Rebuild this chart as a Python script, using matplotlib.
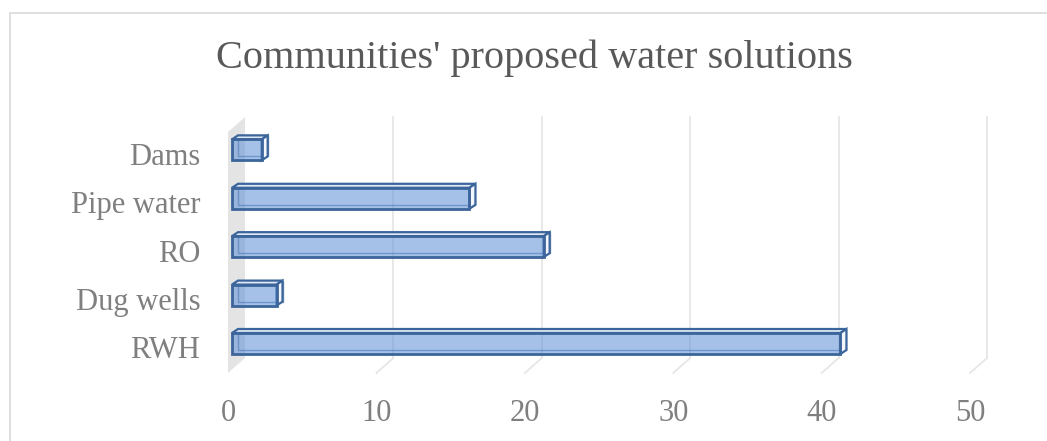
import matplotlib
matplotlib.use("Agg")
import matplotlib.pyplot as plt
from matplotlib.patches import Polygon, Rectangle

# data (bottom to top)
categories = ["RWH", "Dug wells", "RO", "Pipe water", "Dams"]
values = [41, 3, 21, 16, 2]
x_ticks = [0, 10, 20, 30, 40, 50]
title = "Communities' proposed water solutions"

plt.rcParams["font.family"] = ["Liberation Serif", "DejaVu Serif"]

W, H, DPI = 1047, 441, 100
fig = plt.figure(figsize=(W / DPI, H / DPI), dpi=DPI)

# front plane of the 3d box, in pixels from the lower left
left, right, bottom, top = 228, 970, 68, 309
ax = fig.add_axes([left / W, bottom / H, (right - left) / W, (top - bottom) / H])
y_lo, y_hi = -0.527, 4.452
ax.set_xlim(x_ticks[0], x_ticks[-1])
ax.set_ylim(y_lo, y_hi)
for s in ax.spines.values():
    s.set_visible(False)

# pixel -> data units
px_x = (x_ticks[-1] - x_ticks[0]) / (right - left)
px_y = (y_hi - y_lo) / (top - bottom)
depth_x, depth_y = 17 * px_x, 15 * px_y   # back wall offset
front_x, front_y = 4 * px_x, 4 * px_y     # bar front face offset
bar_dx, bar_dy = 6 * px_x, 4 * px_y       # bar depth
bar_h = 21 * px_y

# side wall
wall = Polygon([(0, y_lo), (0, y_hi), (depth_x, y_hi + depth_y), (depth_x, y_lo + depth_y)],
               closed=True, facecolor="#e4e4e4", edgecolor="none", clip_on=False, zorder=1)
ax.add_patch(wall)

# gridlines on back wall + floor lines
for t in x_ticks[1:]:
    ax.plot([t + depth_x] * 2, [y_lo + depth_y, y_hi + depth_y], color="#e6e6e6", lw=1.3,
            clip_on=False, zorder=1)
    ax.plot([t, t + depth_x], [y_lo, y_lo + depth_y], color="#e6e6e6", lw=1.3,
            clip_on=False, zorder=1)

edge = "#3b659b"
for i, v in enumerate(values):
    x0 = front_x
    x1 = v + front_x
    y0 = i - bar_h / 2 + front_y
    y1 = i + bar_h / 2 + front_y
    # back face outline (seen through)
    ax.add_patch(Rectangle((x0 + bar_dx, y0 + bar_dy), x1 - x0, y1 - y0, fill=False,
                           edgecolor=edge, lw=1.0, alpha=0.6, clip_on=False, zorder=2))
    # top face
    ax.add_patch(Polygon([(x0, y1), (x1, y1), (x1 + bar_dx, y1 + bar_dy), (x0 + bar_dx, y1 + bar_dy)],
                         closed=True, facecolor="#dfe8f4", edgecolor=edge, lw=1.6,
                         clip_on=False, zorder=3))
    # right face
    ax.add_patch(Polygon([(x1, y0), (x1, y1), (x1 + bar_dx, y1 + bar_dy), (x1 + bar_dx, y0 + bar_dy)],
                         closed=True, facecolor="#f3f6fa", edgecolor=edge, lw=1.6,
                         clip_on=False, zorder=3))
    # front face
    ax.add_patch(Rectangle((x0, y0), x1 - x0, y1 - y0, facecolor=(0.36, 0.56, 0.83, 0.55),
                           edgecolor=edge, lw=2.0, clip_on=False, zorder=4))

ax.set_yticks(range(len(categories)), categories)
ax.set_xticks(x_ticks, [str(t) for t in x_ticks])
ax.tick_params(axis="y", length=0, pad=20, labelsize=22, labelcolor="#7f7f7f")
ax.tick_params(axis="x", length=0, pad=19, labelsize=22, labelcolor="#7f7f7f")
ax.patch.set_visible(False)

fig.text(534 / W, 1 - 58 / H, title, ha="center", va="center", fontsize=29, color="#595959")

# chart area border
fig.add_artist(Rectangle((10 / W, -0.1), 1.2, (H - 13) / H + 0.1, transform=fig.transFigure,
                         fill=False, edgecolor="#d9d9d9", lw=1.2))

fig.savefig("out.png", dpi=DPI)
